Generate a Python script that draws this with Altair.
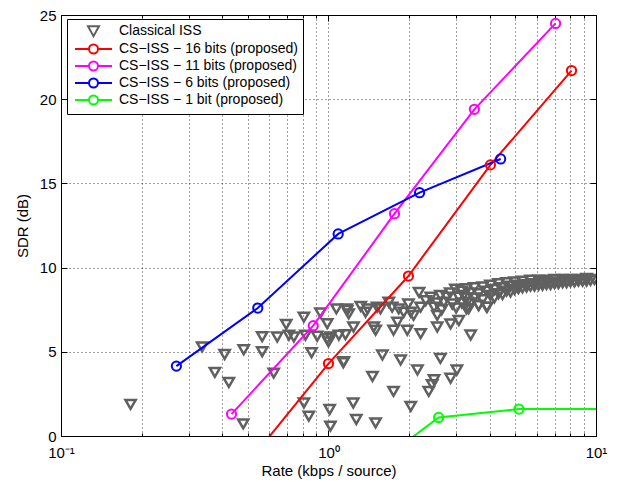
import altair as alt
import pandas as pd

SERIES = [
    "Classical ISS",
    "CS\u2212ISS \u2212 16 bits (proposed)",
    "CS\u2212ISS \u2212 11 bits (proposed)",
    "CS\u2212ISS \u2212 6 bits (proposed)",
    "CS\u2212ISS \u2212 1 bit (proposed)",
]
COLORS = ["#606060", "#ff0000", "#ff00ff", "#0000ff", "#00ff00"]

# Classical ISS (rate kbps/source, SDR dB)
CL_X = [0.182, 0.337, 0.409, 0.482, 0.376, 0.424, 0.48, 0.565, 0.565, 0.624,
        0.643, 0.695, 0.711, 0.742, 0.809, 0.820, 0.864, 0.907, 0.933, 0.989,
        0.989, 1.0, 1.017, 1.07, 1.093, 1.135, 1.157, 1.17, 1.19, 1.24,
        1.32, 1.40, 0.809, 0.844, 1.01, 1.017, 1.237, 1.27,
        1.175, 1.375, 1.52, 1.565, 1.68, 1.73, 1.83, 1.91, 1.99, 2.03,
        2.08, 2.18, 2.21, 2.31, 2.41, 2.48, 2.55, 2.62, 2.70, 2.77,
        2.90, 2.98, 3.07, 3.2, 3.3, 2.65, 2.85, 3.0, 2.55,
        1.476, 1.50, 1.75, 1.81, 1.97, 2.21, 2.55, 2.86, 3.07, 3.4,
        1.14, 1.59, 1.86, 2.62, 2.15, 3.02, 2.86, 2.48, 2.44, 2.37,
        1.46, 1.75, 2.03, 1.50,
        3.34, 3.64, 3.92,
        3.15, 3.15, 3.28, 3.28, 3.28, 3.40, 3.40, 3.51, 3.51, 3.64,
        3.64, 3.77, 3.77, 3.90, 3.90, 4.03, 4.03, 4.17, 4.17, 4.32,
        4.32, 4.47, 4.47, 4.63, 4.63, 4.79, 4.79, 4.96, 4.96, 5.13,
        5.13, 5.31, 5.31, 5.50, 5.50, 5.69, 5.69, 5.89, 5.89, 6.10,
        6.10, 6.31, 6.31, 6.53, 6.53, 6.76, 6.76, 7.00, 7.00, 7.24,
        7.24, 7.50, 7.50, 7.76, 7.76, 8.03, 8.03, 8.31, 8.31, 8.60,
        8.60, 8.91, 8.91, 9.22, 9.22, 9.54, 9.87]
CL_Y = [1.88, 5.29, 4.84, 5.12, 3.78, 3.18, 0.72, 5.0, 5.9, 3.73,
        5.88, 6.63, 5.98, 5.88, 7.06, 5.98, 4.94, 5.92, 7.31, 6.67,
        5.78, 5.59, 5.88, 7.55, 5.98, 4.35, 6.02, 7.55, 7.25, 6.47,
        7.7, 7.55, 1.96, 1.18, 1.57, 0.59, 1.96, 0.98,
        7.45, 7.35, 7.65, 7.55, 7.94, 7.65, 7.55, 7.35, 7.84, 7.35,
        7.16, 8.53, 7.65, 8.04, 8.24, 7.65, 7.16, 8.34, 7.94, 8.24,
        7.84, 8.72, 8.24, 8.34, 7.94, 7.5, 8.5, 7.6, 7.9,
        6.47, 6.28, 6.28, 6.76, 6.28, 6.08, 6.47, 6.66, 6.86, 6.0,
        4.41, 4.81, 4.51, 4.61, 3.92, 3.92, 3.43, 3.34, 3.04, 2.65,
        3.53, 2.65, 1.76, 0.78,
        7.55, 7.75, 7.65,
        8.6, 7.9, 8.75, 8.2, 7.55, 8.5, 7.9, 8.8, 8.2, 8.45,
        7.75, 8.85, 8.1, 8.6, 7.65, 8.95, 8.35, 8.7, 8.2, 9.05,
        8.45, 8.8, 8.4, 9.1, 8.6, 8.9, 8.55, 9.15, 8.7, 8.95,
        8.75, 9.2, 8.8, 9.0, 8.85, 9.25, 8.9, 9.05, 8.9, 9.25,
        8.95, 9.1, 8.95, 9.25, 9.0, 9.1, 9.0, 9.3, 9.05, 9.15,
        9.05, 9.3, 9.1, 9.2, 9.1, 9.3, 9.15, 9.2, 9.15, 9.3,
        9.2, 9.25, 9.2, 9.35, 9.2, 9.25, 9.3]

# CS-ISS curves
R16_X = [0.5, 1.0, 1.99, 4.03, 8.1]
R16_Y = [-1.6, 4.3, 9.5, 16.1, 21.7]
R11_X = [0.434, 0.877, 1.765, 3.51, 7.06]
R11_Y = [1.3, 6.55, 13.2, 19.4, 24.5]
R6_X = [0.270, 0.544, 1.087, 2.19, 4.40]
R6_Y = [4.15, 7.6, 12.0, 14.45, 16.45]
R1_X = [1.29, 2.58, 5.15, 10.5]
R1_Y = [-2.5, 1.1, 1.6, 1.6]

X_MAJOR = [0.1, 1, 10]
X_MINOR = [0.2, 0.3, 0.4, 0.5, 0.6, 0.7, 0.8, 0.9,
           2, 3, 4, 5, 6, 7, 8, 9]
X_TICKS = X_MAJOR + X_MINOR
Y_TICKS = [0, 5, 10, 15, 20, 25]

W, H = 535, 421

cl_df = pd.DataFrame({"x": CL_X, "y": CL_Y, "series": SERIES[0]})
rows = []
for name, xs, ys in [(SERIES[1], R16_X, R16_Y), (SERIES[2], R11_X, R11_Y),
                     (SERIES[3], R6_X, R6_Y), (SERIES[4], R1_X, R1_Y)]:
    for a, b in zip(xs, ys):
        rows.append({"x": a, "y": b, "series": name})
cs_df = pd.DataFrame(rows)
leg_df = pd.DataFrame({"series": SERIES})

LINE_SYM = ("M-3.7,0L-0.9,0M0.9,0L3.7,0"
            "M-0.9,0A0.9,0.9 0 1,0 0.9,0A0.9,0.9 0 1,0 -0.9,0")
TRI_SYM = "M-1.1,-0.95L1.1,-0.95L0,1.05Z"
SHAPES = [TRI_SYM, LINE_SYM, LINE_SYM, LINE_SYM, LINE_SYM]

xscale = alt.Scale(type="log", domain=[0.1, 10], nice=False)
yscale = alt.Scale(domain=[0, 25], nice=False, zero=False)
cscale = alt.Scale(domain=SERIES, range=COLORS)

xaxis = alt.Axis(
    title="Rate (kbps / source)", values=X_TICKS,
    labelExpr="datum.value == 0.1 ? '10\u207b\u00b9' : datum.value == 1 ? '10\u2070' : datum.value == 10 ? '10\u00b9' : ''",
    labelFlush=False, ticks=False, domain=False, labelPadding=9,
    grid=True, gridDash=[1, 3], gridColor="#000000", gridOpacity=0.75,
    titlePadding=3, orient="bottom",
)
yaxis = alt.Axis(
    title="SDR (dB)", values=Y_TICKS, ticks=False, domain=False,
    labelPadding=5, grid=True, gridDash=[1, 3], gridColor="#000000",
    gridOpacity=0.75, titlePadding=9, orient="left",
)


def tick_axis(orient, offset, values, size):
    return alt.Axis(
        orient=orient, offset=offset, values=values, labels=False,
        grid=False, domain=False, ticks=True, tickSize=size,
        tickColor="black", tickWidth=1, title=None,
    )


leg = alt.Legend(
    title=None, orient="none", legendX=6, legendY=4, fillColor="white",
    strokeColor="black", padding=5, symbolSize=100, symbolStrokeWidth=2,
    symbolOffset=14.5, labelOffset=18.5, labelFontSize=14,
    labelFont="Liberation Sans", labelColor="black", labelLimit=400,
    rowPadding=-1, symbolOpacity=1,
)
legend_layer = alt.Chart(leg_df).mark_point(
    filled=False, strokeWidth=2, opacity=0
).encode(
    color=alt.Color("series:N", scale=cscale, legend=leg),
    shape=alt.Shape("series:N", scale=alt.Scale(domain=SERIES, range=SHAPES),
                    legend=leg),
)

# invisible layers that only carry the inward tick marks on all four sides
def tick_layer(xa, ya):
    return alt.Chart(cl_df).mark_point(opacity=0).encode(
        x=alt.X("x:Q", scale=xscale, axis=xa),
        y=alt.Y("y:Q", scale=yscale, axis=ya),
    )


t1 = tick_layer(tick_axis("top", -H, X_MAJOR, 6), tick_axis("right", -W, Y_TICKS, 6))
t2 = tick_layer(tick_axis("bottom", -H, X_MAJOR, 6), tick_axis("left", -W, Y_TICKS, 6))
t3 = tick_layer(tick_axis("top", -H, X_MINOR, 3), None)
t4 = tick_layer(tick_axis("bottom", -H, X_MINOR, 3), None)

tri = alt.Chart(cl_df).mark_point(
    shape="triangle-down", filled=False, strokeWidth=2.5, size=105, clip=True,
    opacity=1,
).encode(
    x=alt.X("x:Q", scale=xscale, axis=xaxis),
    y=alt.Y("y:Q", scale=yscale, axis=yaxis),
    color=alt.Color("series:N", scale=cscale, legend=None),
)

XN = alt.X("x:Q", scale=xscale, axis=None)
YN = alt.Y("y:Q", scale=yscale, axis=None)
lines = alt.Chart(cs_df).mark_line(strokeWidth=2, clip=True).encode(
    x=XN, y=YN, color=alt.Color("series:N", scale=cscale, legend=None)
)
circles = alt.Chart(cs_df).mark_point(
    shape="circle", filled=False, strokeWidth=2, size=85, clip=True, opacity=1
).encode(x=XN, y=YN, color=alt.Color("series:N", scale=cscale, legend=None))

chart = alt.layer(legend_layer, tri, t1, t2, t3, t4, lines, circles).resolve_axis(
    x="independent", y="independent"
).properties(
    width=W, height=H,
    autosize=alt.AutoSizeParams(type="none"),
    padding={"left": 53, "top": 7, "right": 18, "bottom": 46},
    background="white",
).configure_view(stroke="black", strokeWidth=1).configure_axis(
    labelFont="Liberation Sans", titleFont="Liberation Sans",
    labelFontSize=15, titleFontSize=15, labelColor="black",
    titleColor="black", titleFontWeight="normal",
)

chart.save("out.html", embed_options={"renderer": "svg", "actions": False})
